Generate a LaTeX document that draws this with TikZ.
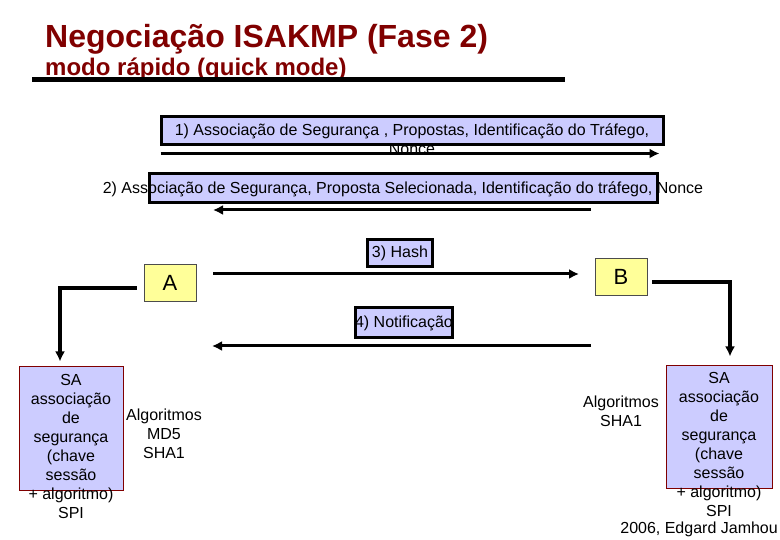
\documentclass[tikz,border=0pt]{standalone}
\usepackage{fontspec}
\setmainfont{Liberation Sans}
\usepackage{xcolor}
\usetikzlibrary{arrows.meta,positioning}
\definecolor{titlered}{RGB}{128,0,0}
\definecolor{msgblue}{RGB}{204,204,255}
\definecolor{peeryellow}{RGB}{255,255,153}

\begin{document}
\begin{tikzpicture}[x=1pt, y=-1pt,
  txt/.style={font=\fontsize{16}{19}\selectfont, inner sep=0pt, align=center},
  msgbox/.style={draw, line width=3pt, fill=msgblue, inner sep=0pt},
  peer/.style={draw=black!70, line width=0.8pt, fill=peeryellow,
    minimum width=52pt, minimum height=37pt, font=\fontsize{22}{26}\selectfont},
  sabox/.style={draw=titlered, line width=1pt, fill=msgblue, inner sep=0pt},
  arr/.style={-{Latex[length=10pt,width=10pt]}, line width=3pt},
  corner/.style={-{Latex[length=10pt,width=10pt]}, line width=4.5pt}
]
\useasboundingbox (0,0) rectangle (780,540);

% title
\node[anchor=base west, inner sep=0pt, text=titlered,
  font=\fontsize{32}{38}\selectfont\bfseries] (title) at (45,48) {Negociação ISAKMP (Fase 2)};
\node[anchor=base west, inner sep=0pt, text=titlered,
  font=\fontsize{24}{28}\selectfont\bfseries] (subtitle) at (45,76) {modo rápido (quick mode)};
\draw[line width=5pt] ([xshift=-13pt,yshift=-4pt]subtitle.base west) -- ++(533,0);

% messages
\node[msgbox, minimum width=502pt, minimum height=28pt] (m1box) at (412,131) {};
\node[txt, anchor=north] (m1txt) at (412,123.3) {1) Associação de Segurança , Propostas, Identificação do Tráfego,\\Nonce};
\node[msgbox, minimum width=508pt, minimum height=29pt] (m2box) at (403,188.5) {};
\node[txt, anchor=base] (m2txt) at (403,194) {2) Associação de Segurança, Proposta Selecionada, Identificação do tráfego, Nonce};
\node[msgbox, txt, inner xsep=4pt, minimum height=27pt] (hash) at (400,253) {3) Hash};
\node[msgbox, txt, minimum height=30pt] (notif) at (404,323) {4) Notificação};

% peers
\node[peer] (A) at (170,283) {A};
\node[peer] (B) at (621,276.5) {B};

% security associations
\node[sabox, minimum width=104pt, minimum height=123pt] (saL) at (71,428.5) {};
\node[txt, anchor=north] (saLtxt) at (71,374.3) {SA\\associação\\de\\segurança\\(chave\\sessão\\+ algoritmo)\\SPI};
\node[txt, anchor=north] (algL) at (164,408.3) {Algoritmos\\MD5\\SHA1};
\node[sabox, minimum width=106pt, minimum height=122pt] (saR) at (719,427) {};
\node[txt, anchor=north] (saRtxt) at (719,372.3) {SA\\associação\\de\\segurança\\(chave\\sessão\\+ algoritmo)\\SPI};
\node[txt, anchor=north] (algR) at (621,395.3) {Algoritmos\\SHA1};
\node[txt, anchor=base east] (foot) at (778,533) {2006, Edgard Jamhou};

% lanes
\coordinate (m2s) at (591,210);
\coordinate (m2e) at (213,210);
\coordinate (m3s) at (213,274);
\coordinate (m3e) at (579,274);
\coordinate (m4s) at (591,346);
\coordinate (m4e) at (212,346);

\draw[arr] ([xshift=1pt,yshift=-7pt]m1box.south west) -- ([xshift=-5pt,yshift=-7pt]m1box.south east);
\draw[arr] (m2s) -- (m2e);
\draw[arr] (m3s) -- (m3e);
\draw[arr] (m4s) -- (m4e);
\draw[corner] ([xshift=-7pt,yshift=-5pt]A.west) -| ([xshift=-11pt,yshift=5pt]saL.north);
\draw[corner] ([xshift=5pt,yshift=-5.5pt]B.east) -| ([xshift=11pt,yshift=9pt]saR.north);
\end{tikzpicture}
\end{document}
